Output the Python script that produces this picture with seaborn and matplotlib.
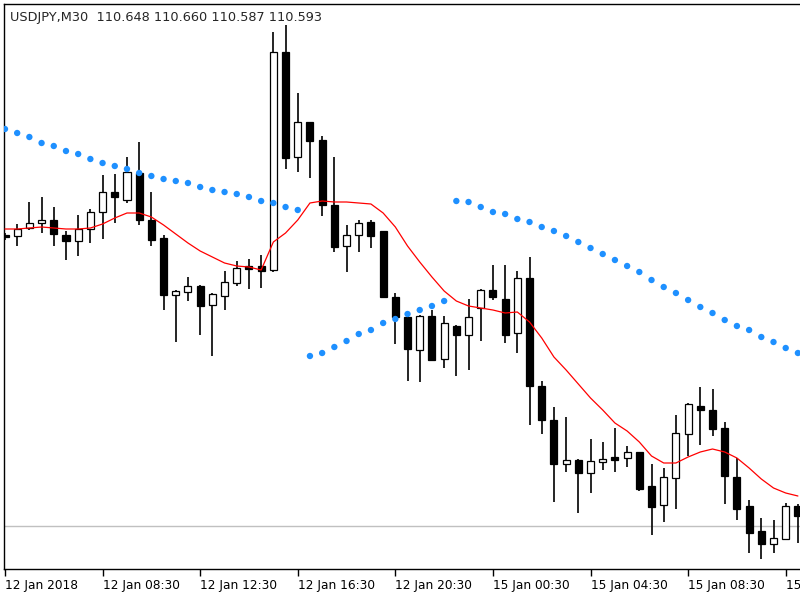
import numpy as np
import pandas as pd
import matplotlib
matplotlib.use('Agg')
import matplotlib.pyplot as plt
import seaborn as sns

# USDJPY M30 bars
opens = [110.884, 110.883, 110.891, 110.896, 110.899, 110.884, 110.878, 110.890, 110.907, 110.927,
         110.919, 110.946, 110.899, 110.881, 110.824, 110.827, 110.833, 110.814, 110.823, 110.836,
         110.853, 110.853, 110.849, 111.067, 110.962, 110.997, 110.979, 110.914, 110.873, 110.884,
         110.897, 110.888, 110.822, 110.802, 110.769, 110.803, 110.760, 110.793, 110.784, 110.811,
         110.829, 110.820, 110.786, 110.841, 110.733, 110.699, 110.655, 110.659, 110.646, 110.657,
         110.662, 110.661, 110.667, 110.633, 110.614, 110.641, 110.685, 110.713, 110.709, 110.691,
         110.642, 110.613, 110.588, 110.575, 110.580, 110.613]
highs = [110.886, 110.895, 110.917, 110.922, 110.912, 110.888, 110.904, 110.910, 110.944, 110.945,
         110.962, 110.977, 110.927, 110.884, 110.829, 110.842, 110.834, 110.826, 110.848, 110.858,
         110.860, 110.864, 111.087, 111.094, 111.026, 110.997, 110.983, 110.962, 110.894, 110.899,
         110.899, 110.888, 110.826, 110.804, 110.804, 110.809, 110.803, 110.794, 110.820, 110.830,
         110.854, 110.854, 110.848, 110.862, 110.738, 110.712, 110.702, 110.660, 110.680, 110.677,
         110.691, 110.673, 110.667, 110.655, 110.651, 110.704, 110.716, 110.732, 110.730, 110.697,
         110.661, 110.619, 110.601, 110.599, 110.616, 110.615]
lows = [110.879, 110.873, 110.889, 110.886, 110.873, 110.859, 110.863, 110.876, 110.880, 110.896,
        110.916, 110.894, 110.873, 110.809, 110.777, 110.818, 110.784, 110.763, 110.809, 110.833,
        110.830, 110.831, 110.847, 110.950, 110.947, 110.941, 110.903, 110.867, 110.847, 110.867,
        110.871, 110.821, 110.775, 110.738, 110.737, 110.758, 110.751, 110.743, 110.749, 110.778,
        110.819, 110.776, 110.766, 110.694, 110.685, 110.617, 110.647, 110.606, 110.626, 110.649,
        110.647, 110.652, 110.628, 110.584, 110.597, 110.610, 110.663, 110.674, 110.683, 110.615,
        110.599, 110.566, 110.560, 110.566, 110.580, 110.576]
closes = [110.882, 110.890, 110.896, 110.899, 110.885, 110.878, 110.890, 110.907, 110.927, 110.922,
          110.947, 110.899, 110.879, 110.824, 110.828, 110.833, 110.813, 110.825, 110.837, 110.851,
          110.850, 110.848, 111.067, 110.961, 110.997, 110.978, 110.914, 110.872, 110.884, 110.896,
          110.883, 110.822, 110.802, 110.770, 110.803, 110.759, 110.796, 110.784, 110.802, 110.829,
          110.822, 110.784, 110.841, 110.733, 110.699, 110.655, 110.659, 110.646, 110.658, 110.660,
          110.659, 110.667, 110.630, 110.612, 110.642, 110.686, 110.715, 110.709, 110.690, 110.643,
          110.610, 110.586, 110.575, 110.581, 110.613, 110.603]

# moving average (red line)
ma = [110.890, 110.890, 110.891, 110.892, 110.891, 110.890, 110.890, 110.891, 110.895, 110.901,
      110.906, 110.906, 110.902, 110.894, 110.885, 110.876, 110.868, 110.862, 110.856, 110.853,
      110.852, 110.849, 110.877, 110.886, 110.899, 110.916, 110.918, 110.917, 110.917, 110.916,
      110.915, 110.906, 110.892, 110.873, 110.857, 110.842, 110.828, 110.818, 110.813, 110.811,
      110.809, 110.806, 110.807, 110.797, 110.781, 110.762, 110.749, 110.735, 110.721, 110.709,
      110.696, 110.688, 110.677, 110.663, 110.656, 110.656, 110.662, 110.667, 110.670, 110.667,
      110.661, 110.651, 110.640, 110.631, 110.626, 110.623]

# parabolic SAR (blue dots)
sar = [110.990, 110.986, 110.982, 110.976, 110.973, 110.968, 110.965, 110.960, 110.956, 110.953,
       110.950, 110.946, 110.943, 110.940, 110.938, 110.936, 110.932, 110.929, 110.927, 110.925,
       110.922, 110.918, 110.916, 110.912, 110.909, 110.763, 110.766, 110.772, 110.778, 110.785,
       110.789, 110.796, 110.800, 110.805, 110.809, 110.813, 110.818, 110.918, 110.917, 110.912,
       110.907, 110.905, 110.900, 110.897, 110.892, 110.888, 110.883, 110.877, 110.871, 110.865,
       110.859, 110.853, 110.847, 110.839, 110.832, 110.826, 110.819, 110.812, 110.806, 110.799,
       110.793, 110.789, 110.782, 110.777, 110.771, 110.766]

tick_labels = ['12 Jan 2018', '12 Jan 08:30', '12 Jan 12:30', '12 Jan 16:30', '12 Jan 20:30',
               '15 Jan 00:30', '15 Jan 04:30', '15 Jan 08:30', '15 Jan 12:30']
bid = 110.593
header = 'USDJPY,M30  110.648 110.660 110.587 110.593'

df = pd.DataFrame({'open': opens, 'high': highs, 'low': lows, 'close': closes,
                   'ma': ma, 'sar': sar})
df['bar'] = np.arange(len(df))
up = df['close'] >= df['open']

sns.set_style('white')
plt.rcParams['font.family'] = ['DejaVu Sans']

fig = plt.figure(figsize=(8, 6), dpi=100)
ax = fig.add_axes([4 / 800, 31 / 600, 1.0, 565 / 600])

# wicks then bodies
ax.vlines(df['bar'], df['low'], df['high'], color='black', lw=1.2, zorder=2)
body_bottom = df[['open', 'close']].min(axis=1)
body_height = (df['close'] - df['open']).abs()
ax.bar(df['bar'], body_height, bottom=body_bottom, width=0.58,
       color=np.where(up, 'white', 'black'), edgecolor='black', linewidth=0.9, zorder=3)

ax.axhline(bid, color='#c0c0c0', lw=1, zorder=1)

sns.lineplot(data=df, x='bar', y='ma', color='red', lw=0.9, ax=ax, zorder=4)
sns.scatterplot(data=df, x='bar', y='sar', color='#1E90FF', s=21, edgecolor='none', ax=ax, zorder=5)

ax.set_xlim(-0.08, 65.5)
ax.set_ylim(110.550, 111.115)
ax.set_xlabel('')
ax.set_ylabel('')
ax.set_yticks([])
ax.set_xticks(range(0, 65, 8))
ax.set_xticklabels(tick_labels, fontsize=8.7, ha='left')
ax.tick_params(axis='x', direction='out', length=5, width=1, pad=2, bottom=True, colors='black')

for side in ['left', 'top', 'bottom']:
    ax.spines[side].set_color('black')
    ax.spines[side].set_linewidth(1)
ax.spines['right'].set_visible(False)

fig.text(10 / 800, 1 - 17 / 600, header, fontsize=9.3, va='center', ha='left')

fig.savefig('out.png', dpi=100)
